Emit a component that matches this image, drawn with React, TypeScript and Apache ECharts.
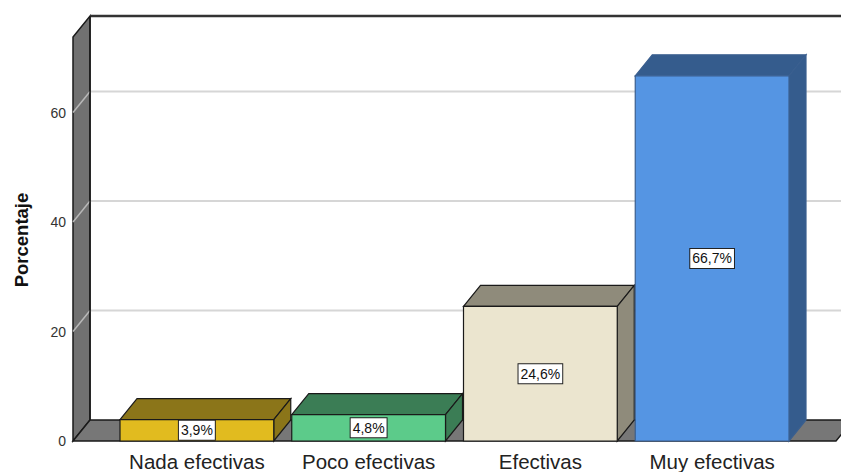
import React, { useEffect, useRef } from "react";
import * as echarts from "echarts";

const categories = ["Nada efectivas", "Poco efectivas", "Efectivas", "Muy efectivas"];
const percentages = [3.9, 4.8, 24.6, 66.7];
const valueLabels = ["3,9%", "4,8%", "24,6%", "66,7%"];
const yTicks = [0, 20, 40, 60];
const yAxisTitle = "Porcentaje";

const frontColors = ["#E1BB1F", "#5CCB8A", "#EBE5CF", "#5595E3"];
const sideColors = ["#8B7519", "#3B7D55", "#8F8B7B", "#355C8D"];
const edgeColors = ["#1a1a1a", "#1a1a1a", "#1a1a1a", "#3a5f8f"];

const FONT = "Arial, 'Liberation Sans', sans-serif";
const DX = 17;
const DY = -21;
const PAD = 38;

export default function App() {
  const ref = useRef<HTMLDivElement>(null);
  useEffect(() => {
    document.body.style.margin = "0";
    const chart = echarts.init(ref.current!, null, { renderer: "svg" });
    const option: any = {
      animation: false,
      backgroundColor: "#ffffff",
      grid: { left: 111, right: 43, top: 37, bottom: 31 },
      xAxis: {
        type: "category",
        data: categories,
        axisLine: { show: false },
        axisTick: { show: false },
        splitLine: { show: false },
        axisLabel: {
          interval: 0,
          hideOverlap: false,
          fontSize: 20.5,
          color: "#222",
          margin: 10,
          fontFamily: FONT,
        },
      },
      yAxis: {
        type: "value",
        min: 0,
        max: 73.8,
        interval: 20,
        offset: PAD,
        axisLine: { show: false },
        axisTick: { show: false },
        splitLine: { show: false },
        axisLabel: {
          fontSize: 14,
          color: "#333",
          margin: 7,
          fontFamily: FONT,
          formatter: (v: number) => (yTicks.includes(v) ? String(v) : ""),
        },
      },
      graphic: [
        {
          type: "text",
          x: 21,
          y: 240,
          rotation: Math.PI / 2,
          style: {
            text: yAxisTitle,
            align: "center",
            verticalAlign: "middle",
            fontSize: 18.5,
            fontWeight: "bold",
            fill: "#111",
            fontFamily: FONT,
          },
        },
      ],
      series: [
        {
          type: "custom",
          silent: true,
          data: [[0, 0]],
          z: 1,
          renderItem: (params: any, api: any) => {
            const cs = params.coordSys;
            const left = cs.x - PAD;
            const right = cs.x + cs.width + PAD;
            const top = cs.y;
            const bottom = cs.y + cs.height;
            const children: any[] = [];
            children.push({
              type: "rect",
              shape: { x: left + DX, y: top + DY, width: right - left, height: bottom - top },
              style: { fill: "#ffffff" },
            });
            yTicks.forEach((t) => {
              if (t === 0) return;
              const y = api.coord([0, t])[1];
              children.push({
                type: "line",
                shape: { x1: left + DX, y1: y + DY, x2: right + DX, y2: y + DY },
                style: { stroke: "#d6d6d6", lineWidth: 2 },
              });
            });
            children.push({
              type: "polygon",
              shape: {
                points: [
                  [left, bottom],
                  [left, top],
                  [left + DX, top + DY],
                  [left + DX, bottom + DY],
                ],
              },
              style: { fill: "#717171", stroke: "#1a1a1a", lineWidth: 1.5 },
            });
            yTicks.forEach((t) => {
              if (t === 0) return;
              const y = api.coord([0, t])[1];
              children.push({
                type: "line",
                shape: { x1: left, y1: y, x2: left + DX, y2: y + DY },
                style: { stroke: "#b8b8b8", lineWidth: 1.5 },
              });
            });
            children.push({
              type: "polygon",
              shape: {
                points: [
                  [left, bottom],
                  [right, bottom],
                  [right + DX, bottom + DY],
                  [left + DX, bottom + DY],
                ],
              },
              style: { fill: "#777777", stroke: "#1a1a1a", lineWidth: 1.5 },
            });
            children.push({
              type: "line",
              shape: { x1: left + DX, y1: top + DY, x2: right + DX, y2: top + DY },
              style: { stroke: "#333", lineWidth: 2.5 },
            });
            children.push({
              type: "line",
              shape: { x1: left + DX, y1: top + DY, x2: left + DX, y2: bottom + DY },
              style: { stroke: "#1a1a1a", lineWidth: 1.5 },
            });
            return { type: "group", children };
          },
        },
        {
          type: "custom",
          silent: true,
          z: 2,
          data: percentages.map((v, i) => [i, v]),
          renderItem: (params: any, api: any) => {
            const i = api.value(0);
            const v = api.value(1);
            const [cx, yTop] = api.coord([i, v]);
            const yBase = api.coord([i, 0])[1];
            const band = api.size([1, 0])[0];
            const w = band - 18;
            const x0 = cx - w / 2;
            const x1 = cx + w / 2;
            const edge = edgeColors[i];
            return {
              type: "group",
              children: [
                {
                  type: "polygon",
                  shape: {
                    points: [
                      [x0, yTop],
                      [x0 + DX, yTop + DY],
                      [x1 + DX, yTop + DY],
                      [x1, yTop],
                    ],
                  },
                  style: { fill: sideColors[i], stroke: edge, lineWidth: 1.2 },
                },
                {
                  type: "polygon",
                  shape: {
                    points: [
                      [x1, yTop],
                      [x1 + DX, yTop + DY],
                      [x1 + DX, yBase + DY],
                      [x1, yBase],
                    ],
                  },
                  style: { fill: sideColors[i], stroke: edge, lineWidth: 1.2 },
                },
                {
                  type: "rect",
                  shape: { x: x0, y: yTop, width: w, height: yBase - yTop },
                  style: { fill: frontColors[i], stroke: edge, lineWidth: 1.2 },
                },
                {
                  type: "text",
                  x: cx,
                  y: (yTop + yBase) / 2,
                  style: {
                    text: valueLabels[i],
                    align: "center",
                    verticalAlign: "middle",
                    fontSize: 14,
                    fontFamily: FONT,
                    fill: "#111",
                    backgroundColor: "#ffffff",
                    borderColor: "#222",
                    borderWidth: 1,
                    padding: [3, 2, 2, 2],
                  },
                },
              ],
            };
          },
        },
      ],
    };
    chart.setOption(option);
    return () => chart.dispose();
  }, []);
  return (
    <div
      ref={ref}
      style={{ position: "fixed", left: 0, top: 0, width: 841, height: 472 }}
    />
  );
}
